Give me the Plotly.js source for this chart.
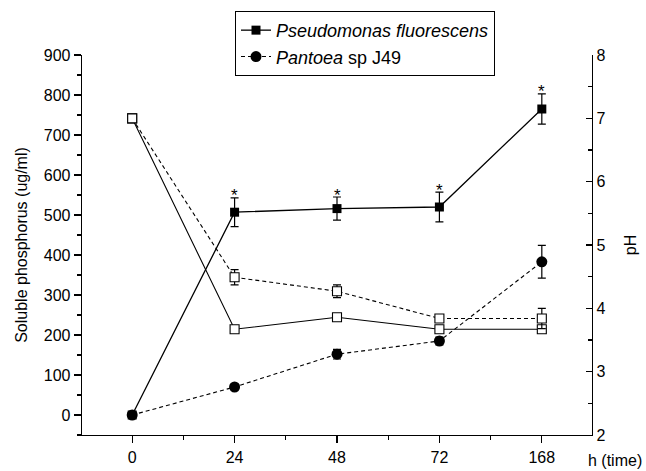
<!DOCTYPE html>
<html>
<head>
<meta charset="utf-8">
<script src="https://cdn.plot.ly/plotly-3.0.1.min.js"></script>
<style>html,body{margin:0;padding:0;background:#fff;}#chart{width:646px;height:471px;}</style>
</head>
<body>
<div id="chart"></div>
<script>
const hours = ['0', '24', '48', '72', '168'];
const pseudoP = [0, 507, 516, 520, 765];
const pseudoPErr = [0, 36, 29, 37, 38];
const pantoeaP = [0, 70, 152, 185, 383];
const pantoeaPErr = [0, 5, 12, 10, 41];
const pseudoPH = [7.0, 3.67, 3.86, 3.67, 3.67];
const pseudoPHErr = [0, 0.03, 0.03, 0.03, 0.05];
const pantoeaPH = [7.0, 4.49, 4.27, 3.84, 3.84];
const pantoeaPHErr = [0, 0.12, 0.1, 0.03, 0.16];
const starIdx = [1, 2, 3, 4];

const xs = hours.map((h, i) => i);
const FONT = '"Liberation Sans", Arial, sans-serif';

function err(arr) {
  return {type: 'data', array: arr, visible: true, color: '#000', thickness: 1.2, width: 4};
}

const traces = [
  {x: xs, y: pseudoPH, yaxis: 'y2', mode: 'lines+markers', showlegend: false,
   line: {color: '#000', width: 1.1},
   marker: {symbol: 'square', size: 9, color: '#fff', line: {color: '#000', width: 1.1}},
   error_y: err(pseudoPHErr)},
  {x: xs, y: pantoeaPH, yaxis: 'y2', mode: 'lines+markers', showlegend: false,
   line: {color: '#000', width: 1.1, dash: '4px,3px'},
   marker: {symbol: 'square', size: 9, color: '#fff', line: {color: '#000', width: 1.1}},
   error_y: err(pantoeaPHErr)},
  {x: xs, y: pseudoP, name: '<i>Pseudomonas fluorescens</i>', mode: 'lines+markers',
   line: {color: '#000', width: 1.3},
   marker: {symbol: 'square', size: 9, color: '#000'},
   error_y: err(pseudoPErr)},
  {x: xs, y: pantoeaP, name: '<i>Pantoea</i> sp J49', mode: 'lines+markers',
   line: {color: '#000', width: 1.1, dash: '4px,3px'},
   marker: {symbol: 'circle', size: 11, color: '#000'},
   error_y: err(pantoeaPErr)}
];

const annotations = starIdx.map(i => ({
  x: xs[i], y: pseudoP[i] + pseudoPErr[i], xref: 'x', yref: 'y',
  text: '*', showarrow: false, xanchor: 'center', yanchor: 'middle', yshift: 2,
  font: {family: FONT, size: 17, color: '#000'}
}));
annotations.push({
  x: 1.045, y: -0.066, xref: 'paper', yref: 'paper', text: 'h (time)',
  showarrow: false, xanchor: 'center', yanchor: 'middle',
  font: {family: FONT, size: 16, color: '#000'}
});

const layout = {
  width: 646, height: 471,
  margin: {l: 82, r: 54, t: 54, b: 36, pad: 0},
  paper_bgcolor: '#fff', plot_bgcolor: '#fff',
  font: {family: FONT, size: 15, color: '#000'},
  showlegend: true,
  legend: {x: 0.3, y: 1.113, xanchor: 'left', yanchor: 'top', bgcolor: '#fff',
           bordercolor: '#000', borderwidth: 1, font: {family: FONT, size: 18, color: '#000'},
           tracegroupgap: 0, itemwidth: 30},
  xaxis: {
    range: [-0.49, 4.49], tickmode: 'array', tickvals: xs, ticktext: hours,
    showline: true, linecolor: '#000', linewidth: 1.3, mirror: false,
    ticks: 'outside', ticklen: 7, tickwidth: 1.2, tickcolor: '#000',
    minor: {tickmode: 'linear', tick0: 0, dtick: 0.5, ticks: 'outside', ticklen: 4, tickwidth: 1.2, tickcolor: '#000', showgrid: false},
    showgrid: false, zeroline: false, tickfont: {size: 16}
  },
  yaxis: {
    range: [-50, 900], tick0: 0, dtick: 100,
    showline: true, linecolor: '#000', linewidth: 1.3,
    ticks: 'outside', ticklen: 7, tickwidth: 1.2, tickcolor: '#000',
    minor: {tick0: 0, dtick: 50, ticks: 'outside', ticklen: 4, tickwidth: 1.2, tickcolor: '#000', showgrid: false},
    showgrid: false, zeroline: false, tickfont: {size: 16},
    title: {text: 'Soluble phosphorus (ug/ml)', font: {size: 16}, standoff: 12}
  },
  yaxis2: {
    overlaying: 'y', side: 'right', range: [2, 8], tick0: 2, dtick: 1,
    showline: true, linecolor: '#000', linewidth: 1.3,
    ticks: 'inside', ticklen: 6, tickwidth: 1.2, tickcolor: '#000',
    minor: {tick0: 2, dtick: 0.5, ticks: 'inside', ticklen: 4, tickwidth: 1.2, tickcolor: '#000', showgrid: false},
    showgrid: false, zeroline: false, tickfont: {size: 16},
    title: {text: 'pH', font: {size: 16}, standoff: 20}
  },
  annotations: annotations
};

Plotly.newPlot('chart', traces, layout, {displayModeBar: false, staticPlot: true});
</script>
</body>
</html>
